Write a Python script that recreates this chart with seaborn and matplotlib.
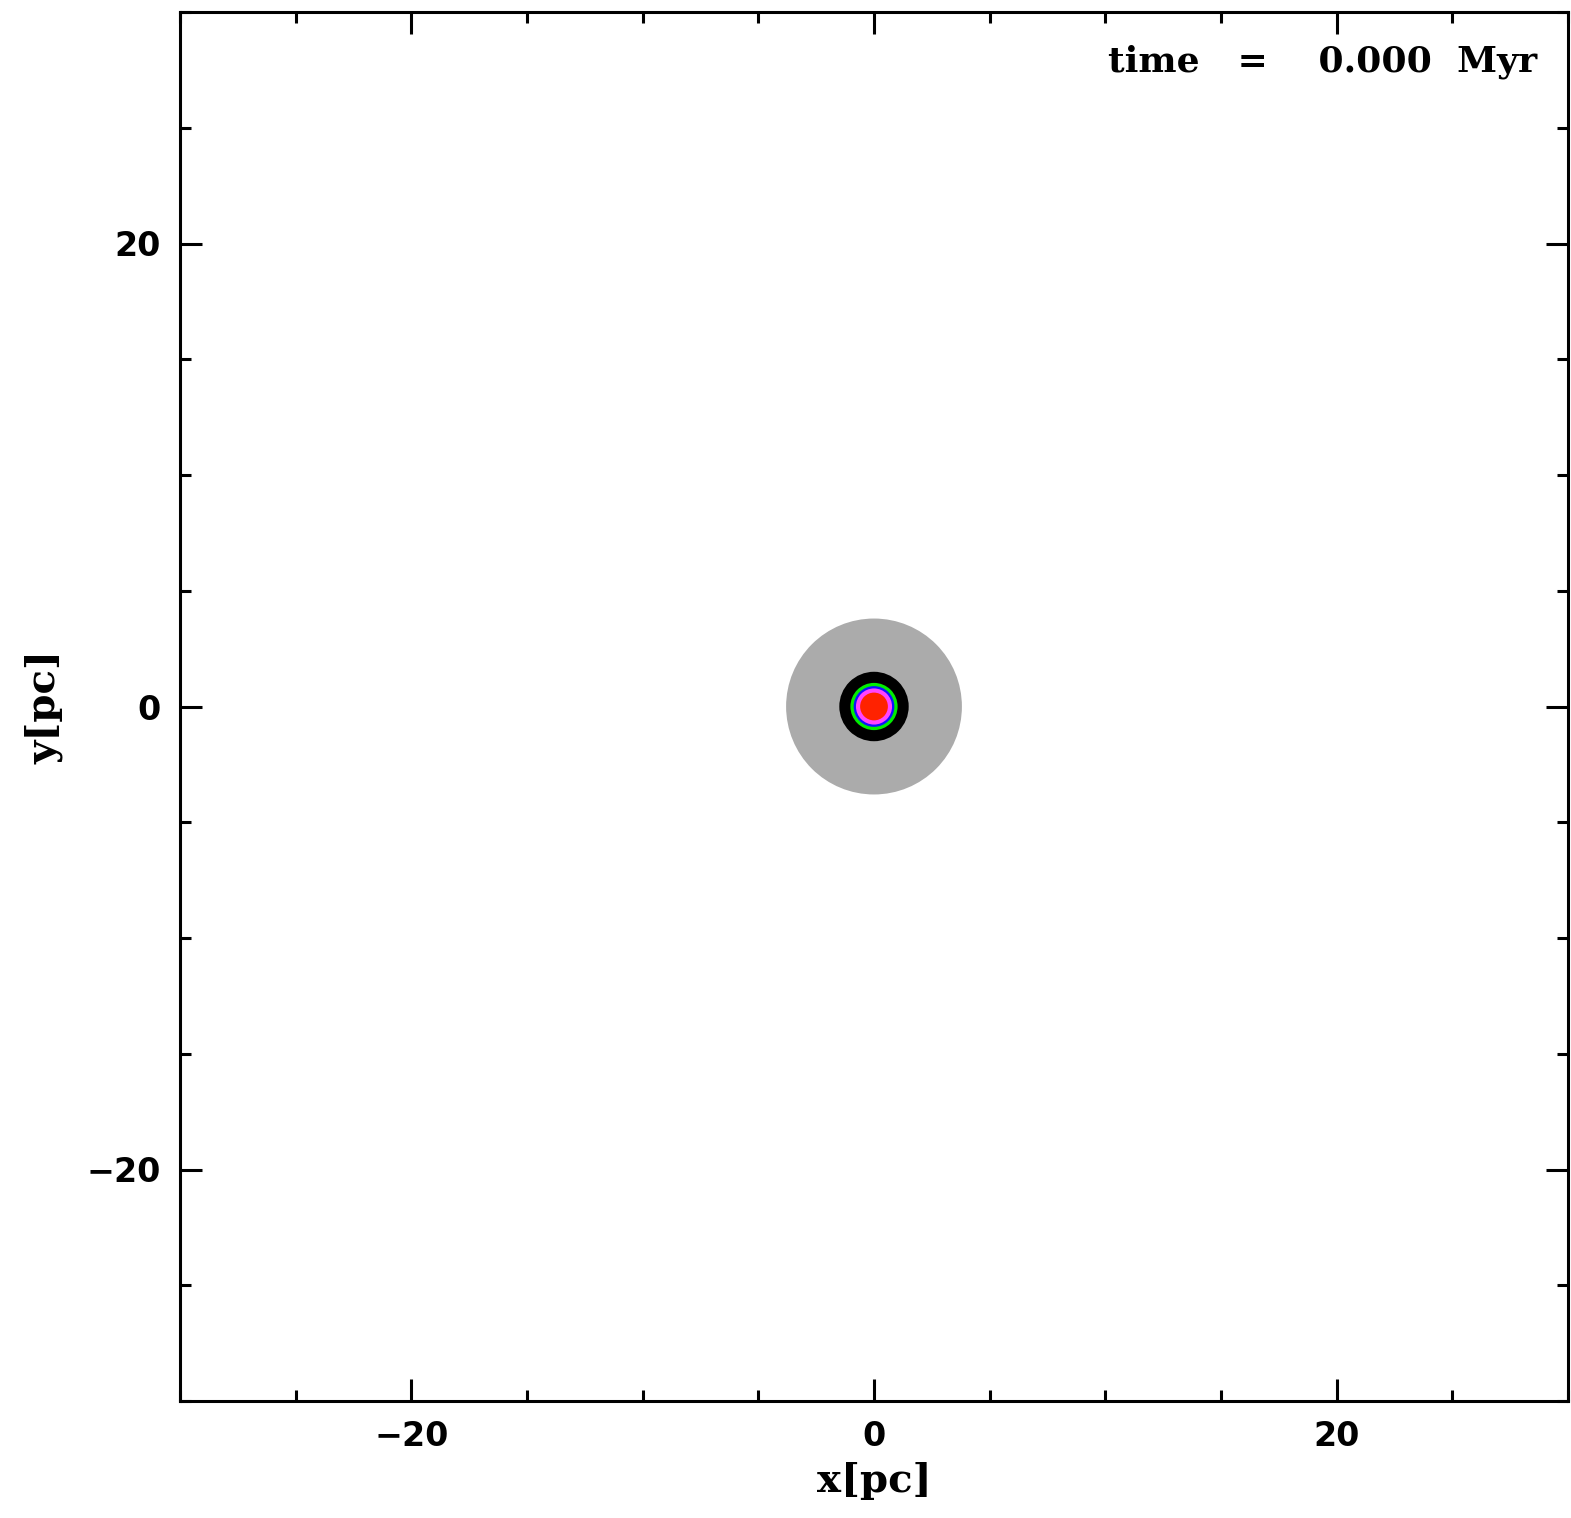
import numpy as np
import matplotlib
matplotlib.use("Agg")
import matplotlib.pyplot as plt
from matplotlib.patches import Circle
from matplotlib.ticker import MultipleLocator
import seaborn as sns

# ---- data: concentric particle populations at t = 0 ----
layer_names = ["halo", "shell", "green", "blue", "magenta", "core"]
layer_radius = [3.8, 1.5, 1.02, 0.88, 0.78, 0.6]   # pc
layer_color = ["#ababab", "#000000", "#00ee00", "#1010ff", "#ff44ff", "#ff2200"]
center_x = [0.0]
center_y = [0.0]

x_range = [-30, 30]
y_range = [-30, 30]
time_myr = 0.000

sns.set_theme(style="ticks")

fig = plt.figure(figsize=(15.71, 15.18), dpi=100)
ax = fig.add_axes([180 / 1571, 1 - 1401 / 1518, 1388 / 1571, 1389 / 1518])

for name, r, c in zip(layer_names, layer_radius, layer_color):
    ax.add_patch(Circle((center_x[0], center_y[0]), r, facecolor=c,
                        edgecolor="none", zorder=2, label=name))

ax.set_xlim(x_range)
ax.set_ylim(y_range)

ax.xaxis.set_major_locator(MultipleLocator(20))
ax.yaxis.set_major_locator(MultipleLocator(20))
ax.xaxis.set_minor_locator(MultipleLocator(5))
ax.yaxis.set_minor_locator(MultipleLocator(5))
ax.tick_params(which="both", direction="in", top=True, right=True,
               color="black", width=2.2)
ax.tick_params(which="major", length=16, pad=14)
ax.tick_params(which="minor", length=8)

for s in ax.spines.values():
    s.set_linewidth(2.2)
    s.set_color("black")

for lab in ax.get_xticklabels() + ax.get_yticklabels():
    lab.set_fontfamily(["DejaVu Sans"])
    lab.set_fontweight("bold")
    lab.set_fontsize(24)
    lab.set_color("black")

label_font = dict(family=["DejaVu Serif"], weight="bold",
                  size=29, color="black")
ax.set_xlabel("x[pc]", labelpad=6, **label_font)
ax.set_ylabel("y[pc]", labelpad=16, **label_font)

ax.text(0.978, 0.957, f"time   =    {time_myr:.3f}  Myr", transform=ax.transAxes,
        ha="right", va="baseline", family=["DejaVu Serif"],
        weight="bold", size=26, color="black")

fig.savefig("out.png", dpi=100, facecolor="white")
plt.close(fig)
